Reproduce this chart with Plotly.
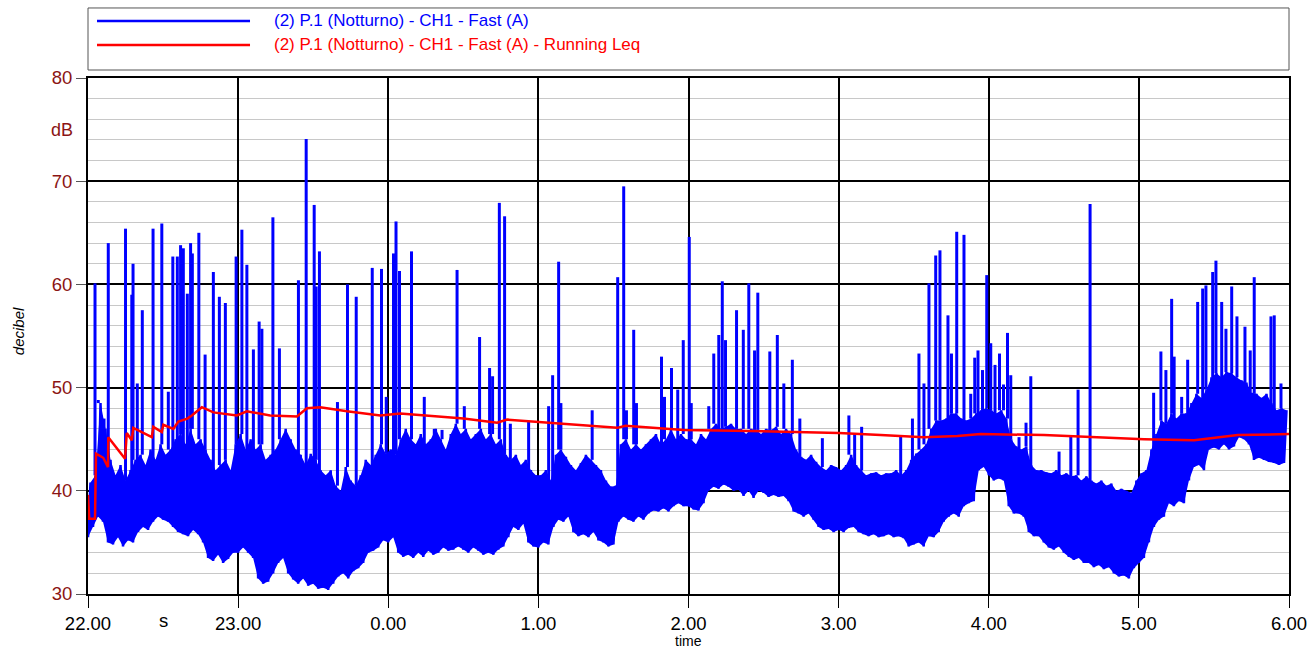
import plotly.graph_objects as go

# time axis in minutes after 22:00 (0 .. 480)
hour_ticks = [0, 60, 120, 180, 240, 300, 360, 420, 480]
hour_labels = ["22.00", "23.00", "0.00", "1.00", "2.00", "3.00", "4.00", "5.00", "6.00"]

# Fast (A) level, 2-minute bins starting at 0, 2, 4 ... 478 min:
# lower and upper edge of the dense band (dB)
band_lo = [35.5, 36.5, 37.5, 37.0, 35.0, 34.8, 35.5, 34.6, 35.2, 35.0,
           36.0, 36.5, 36.2, 37.0, 37.5, 37.2, 37.0, 36.5, 36.0, 35.8,
           35.6, 36.2, 35.8, 35.0, 33.5, 33.2, 33.8, 33.0, 33.4, 34.0,
           34.0, 34.5, 34.0, 33.5, 31.5, 31.0, 31.2, 32.0, 33.0, 33.5,
           32.0, 31.4, 31.0, 31.5, 30.8, 31.0, 30.5, 30.6, 30.4, 31.0,
           31.7, 32.0, 31.5, 32.2, 32.5, 33.0, 34.0, 34.2, 34.5, 35.2,
           35.0, 35.5, 34.0, 33.6, 33.8, 33.5, 34.0, 33.6, 34.2, 33.8,
           34.0, 34.5, 34.2, 34.3, 34.6, 34.3, 34.0, 34.5, 34.2, 33.8,
           34.0, 33.8, 34.3, 34.6, 35.5, 36.5, 36.2, 36.8, 35.0, 34.6,
           34.5, 35.0, 34.8, 36.5, 37.2, 37.0, 37.5, 36.0, 35.6, 35.8,
           35.5, 36.0, 35.2, 35.0, 34.6, 34.8, 37.0, 37.5, 37.2, 37.0,
           37.5, 37.2, 37.8, 38.1, 38.0, 38.3, 38.0, 38.5, 38.8, 38.5,
           38.5, 38.2, 38.1, 38.8, 40.0, 40.4, 40.2, 40.6, 40.4, 40.0,
           40.1, 39.5, 40.0, 39.3, 40.0, 39.8, 39.4, 39.6, 39.4, 39.5,
           39.0, 38.0, 37.8, 37.5, 37.8, 37.2, 36.5, 36.2, 36.3, 36.0,
           36.2, 36.0, 36.4, 36.5, 36.0, 35.8, 35.6, 35.8, 35.5, 35.6,
           35.8, 35.5, 35.6, 35.4, 34.6, 34.8, 35.0, 34.6, 35.6, 35.5,
           36.0, 37.0, 37.5, 37.8, 37.5, 38.5, 38.8, 39.0, 42.0, 42.3,
           41.5, 41.0, 41.2, 41.0, 38.5, 37.8, 37.8, 37.5, 36.0, 35.6,
           35.6, 35.0, 34.5, 34.3, 34.6, 34.0, 33.6, 33.3, 33.5, 33.0,
           33.0, 32.6, 32.8, 32.4, 32.6, 32.0, 31.7, 31.8, 31.5, 32.5,
           33.0, 33.5, 35.0, 36.5, 37.2, 37.5, 38.8, 38.5, 39.0, 38.8,
           41.0, 42.3, 42.5, 42.0, 44.0, 44.2, 44.0, 44.5, 44.0, 44.3,
           45.2, 45.0, 44.5, 43.0, 43.2, 43.0, 42.8, 42.7, 42.5, 42.7]
band_hi = [40.8, 41.5, 48.5, 46.0, 43.0, 41.5, 42.5, 41.0, 42.0, 43.0,
           43.5, 42.5, 44.0, 43.0, 44.5, 43.5, 44.0, 45.0, 45.5, 44.5,
           46.0, 44.5, 45.0, 44.0, 43.0, 42.0, 42.5, 43.0, 42.0, 44.5,
           45.5, 44.0, 45.0, 44.0, 44.5, 43.0, 43.5, 44.0, 45.0, 46.0,
           45.0, 44.0, 43.5, 42.5, 43.6, 43.0, 42.0, 41.5, 42.0, 40.5,
           40.0, 42.3, 41.0, 40.5, 41.5, 43.0, 42.5, 43.5, 44.5, 43.6,
           44.0, 43.5, 45.0, 46.0, 45.0, 44.5, 45.5, 44.5, 45.0, 46.0,
           45.0, 44.0, 45.5, 46.5, 45.5, 46.0, 45.0, 45.5, 46.0, 45.0,
           45.5, 44.5, 45.0, 43.5, 43.0, 43.5, 42.5, 43.0, 42.0, 41.5,
           41.5, 42.0, 41.0, 43.5, 44.0, 43.3, 42.5, 42.0, 42.7, 43.5,
           43.0, 42.5, 42.0, 41.0, 40.4, 40.5, 44.5, 45.0, 44.0, 44.5,
           44.0, 44.5, 45.0, 45.5, 44.5, 45.0, 46.0, 45.0, 45.5, 45.0,
           45.0, 44.5, 45.5, 45.0, 46.0, 46.5, 46.0, 46.2, 46.5, 46.0,
           46.0, 45.5, 46.0, 45.9, 45.5, 46.0, 45.9, 46.2, 45.5, 46.0,
           45.5, 44.0, 43.3, 43.0, 43.5, 42.8, 42.3, 42.0, 42.5, 42.3,
           42.0, 42.5, 43.5, 42.5, 42.0, 41.5, 41.7, 41.8, 41.5, 41.7,
           41.7, 42.0, 41.5, 42.0, 43.0, 43.6, 44.0, 44.5, 46.0, 46.8,
           46.8, 47.0, 47.5, 47.5, 47.0, 46.8, 47.0, 47.5, 47.8, 48.0,
           47.8, 47.5, 47.8, 47.0, 45.0, 44.3, 44.0, 44.3, 42.5, 42.0,
           42.0, 41.8, 41.7, 42.0, 41.5, 41.7, 41.4, 41.5, 41.0, 41.4,
           41.0, 40.7, 41.0, 40.5, 40.7, 40.0, 40.2, 40.0, 39.8, 41.0,
           41.7, 42.0, 44.0, 45.5, 46.8, 46.5, 47.5, 47.0, 47.5, 47.5,
           48.5, 49.4, 49.0, 49.8, 51.0, 51.4, 51.0, 51.5, 51.4, 51.0,
           50.7, 50.5, 49.5, 49.4, 49.0, 49.4, 48.5, 47.8, 48.0, 47.8]

# short noise events (minute, peak dB)
spike_min = [2.8, 4.1, 6.4, 8.1, 15.0, 17.5, 18.0, 19.7, 21.7, 26.0, 29.5, 32.1, 33.9, 35.7, 37.0, 38.1, 39.7, 41.0, 41.7, 44.3,
             46.8, 50.1, 52.5, 54.9, 59.2, 61.5, 63.5, 66.1, 68.4, 69.5, 73.9, 76.5, 84.1, 87.2, 90.4, 91.2, 92.5, 99.7, 103.7, 107.2,
             113.6, 117.3, 119.2, 122.1, 123.1, 124.5, 129.3, 134.4, 138.4, 141.5, 147.5, 150.4, 156.5, 160.5, 161.7, 164.4, 166.5, 168.8, 176.1, 184.1,
             185.7, 188.1, 189.0, 201.5, 211.7, 214.1, 215.2, 218.1, 219.2, 229.2, 230.4, 233.2, 235.7, 237.9, 240.3, 241.1, 248.1, 250.1, 252.1, 253.5,
             254.8, 259.2, 261.9, 264.1, 266.4, 267.7, 272.5, 275.5, 278.1, 281.5, 284.5, 293.5, 304.1, 306.4, 309.2, 324.8, 329.5, 332.1, 334.1, 336.1,
             338.8, 340.5, 343.7, 345.1, 347.2, 350.1, 352.8, 354.4, 355.7, 357.5, 359.2, 360.8, 362.5, 364.3, 365.9, 367.5, 368.8, 372.1, 374.9, 376.8,
             388.1, 392.8, 395.7, 400.5, 425.9, 428.8, 430.8, 433.1, 434.1, 437.1, 439.5, 443.5, 445.5, 446.8, 449.5, 450.8, 453.1, 454.8, 457.1, 459.2,
             462.4, 464.5, 466.1, 472.8, 474.1, 476.8]
spike_db = [60.1, 48.8, 47.0, 64.0, 65.4, 59.0, 62.0, 50.4, 57.5, 65.4, 65.9, 49.6, 62.7, 62.7, 63.8, 63.5, 59.1, 64.0, 63.0, 65.0,
            53.2, 61.2, 58.8, 58.2, 62.7, 65.3, 61.9, 53.7, 56.4, 55.7, 66.5, 53.8, 60.4, 74.1, 67.7, 59.8, 63.2, 48.6, 60.0, 58.8,
            61.6, 61.5, 49.1, 63.0, 66.1, 61.3, 63.2, 49.1, 45.1, 45.9, 61.4, 48.2, 54.9, 51.9, 51.1, 67.9, 66.6, 46.5, 46.7, 48.2,
            51.2, 62.2, 48.5, 47.8, 60.7, 69.5, 47.8, 55.6, 48.5, 53.0, 49.1, 51.9, 49.8, 54.6, 64.6, 48.5, 48.2, 53.3, 55.1, 60.3,
            54.6, 57.5, 55.6, 60.1, 53.6, 59.2, 53.5, 55.1, 50.4, 52.7, 47.0, 45.1, 47.3, 45.6, 46.2, 45.4, 47.0, 53.3, 50.4, 60.1,
            62.8, 63.3, 57.0, 53.3, 65.1, 64.8, 49.4, 52.9, 53.6, 51.7, 60.9, 54.3, 52.2, 53.3, 50.3, 55.3, 51.2, 45.2, 46.6, 51.1,
            43.8, 45.4, 49.8, 67.8, 49.5, 53.5, 51.7, 58.6, 53.0, 49.1, 52.7, 58.3, 59.6, 59.9, 61.2, 62.3, 58.3, 55.7, 59.8, 56.9,
            55.9, 53.6, 60.7, 56.9, 57.0, 50.4]

# running Leq
leq_min = [0, 0.5, 2.8, 3.2, 6.1, 8.0, 8.1, 14.8, 15.5, 17.5, 18.1, 25.5, 26.1, 29.5, 30.1, 34.1, 36.1, 39.7, 41.5, 45.5,
           50.1, 59.5, 63.5, 72.8, 83.5, 87.5, 92.8, 103.5, 116.8, 124.8, 150.1, 163.5, 167.5, 191.5, 211.5, 214.8, 238.1, 264.8, 283.5, 300.1,
           316.8, 334.1, 347.5, 356.8, 382.1, 400.8, 422.1, 442.1, 459.5, 480]
leq_db = [39.6, 37.3, 37.3, 43.6, 43.2, 42.3, 45.2, 43.1, 45.6, 44.9, 46.1, 45.2, 46.2, 45.7, 46.4, 46.0, 46.7, 47.0, 47.3, 48.1,
          47.6, 47.3, 47.7, 47.3, 47.2, 48.0, 48.1, 47.7, 47.3, 47.5, 47.0, 46.6, 46.9, 46.5, 46.1, 46.3, 45.9, 45.8, 45.7, 45.6,
          45.4, 45.2, 45.3, 45.5, 45.4, 45.2, 45.0, 44.9, 45.4, 45.5]

BLUE = "#0000FF"
RED = "#FF0000"
DARKRED = "#8B1414"
FONT = "Liberation Sans, Arial, sans-serif"
BIN = 2  # minutes per band bin

fig = go.Figure()

lo_x = [i * BIN for i in range(len(band_lo))]
hi_x = [i * BIN + BIN / 2 for i in range(len(band_hi))]

# solid core of the band
fig.add_trace(go.Scatter(x=lo_x, y=band_lo, mode="lines", line=dict(width=0, color=BLUE),
                         hoverinfo="skip", showlegend=False))
fig.add_trace(go.Scatter(x=hi_x, y=band_hi, mode="lines", line=dict(width=0, color=BLUE),
                         fill="tonexty", fillcolor=BLUE, hoverinfo="skip", showlegend=False))

# jagged edges: zig-zag between lower and upper edge of every bin
zx, zy = [], []
for a, b, lo, hi in zip(lo_x, hi_x, band_lo, band_hi):
    zx += [a, b]
    zy += [lo, hi]
fig.add_trace(go.Scatter(x=zx, y=zy, mode="lines", line=dict(color=BLUE, width=2.5),
                         hoverinfo="skip", showlegend=False))

# spikes rising out of the band
sx, sy = [], []
for t, pk in zip(spike_min, spike_db):
    base = band_hi[min(int(t // BIN), len(band_hi) - 1)]
    sx += [t, t, None]
    sy += [base, pk, None]
fig.add_trace(go.Scatter(x=sx, y=sy, mode="lines", line=dict(color=BLUE, width=3),
                         name="(2) P.1 (Notturno) - CH1 - Fast (A)", showlegend=False))

fig.add_trace(go.Scatter(x=leq_min, y=leq_db, mode="lines", line=dict(color=RED, width=2.5),
                         name="(2) P.1 (Notturno) - CH1 - Fast (A) - Running Leq", showlegend=False))

# legend box drawn by hand (long line samples)
fig.add_shape(type="rect", xref="paper", yref="paper", x0=0, x1=1, y0=1.0155, y1=1.1357,
              line=dict(color="#555555", width=1))
legend_rows = [("(2) P.1 (Notturno) - CH1 - Fast (A)", BLUE, 1.1105),
               ("(2) P.1 (Notturno) - CH1 - Fast (A) - Running Leq", RED, 1.064)]
for text, col, yy in legend_rows:
    fig.add_shape(type="line", xref="paper", yref="paper", x0=0.0075, x1=0.1349, y0=yy, y1=yy,
                  line=dict(color=col, width=2.5))
    fig.add_annotation(x=0.1532, y=yy, xref="paper", yref="paper", text=text, showarrow=False,
                       xanchor="left", yanchor="middle", font=dict(color=col, size=17, family=FONT))

fig.add_annotation(x=-0.0216, y=75, xref="paper", yref="y", text="dB", showarrow=False,
                   xanchor="center", yanchor="middle", font=dict(color=DARKRED, size=18, family=FONT))
fig.add_annotation(x=-0.058, y=0.51, xref="paper", yref="paper", text="<i>decibel</i>", textangle=-90,
                   showarrow=False, xanchor="center", yanchor="middle",
                   font=dict(color="black", size=15, family=FONT))
fig.add_annotation(x=240, y=-0.091, xref="x", yref="paper", text="time", showarrow=False,
                   xanchor="center", yanchor="middle", font=dict(color="black", size=14, family=FONT))
fig.add_annotation(x=30, y=-0.052, xref="x", yref="paper", text="s", showarrow=False,
                   xanchor="center", yanchor="middle", font=dict(color="black", size=18.5, family=FONT))

fig.update_layout(
    width=1309, height=651,
    margin=dict(l=88, r=20, t=78, b=57),
    paper_bgcolor="white", plot_bgcolor="white",
    font=dict(family=FONT),
    showlegend=False,
)
fig.update_xaxes(
    range=[0, 480], tickvals=hour_ticks, ticktext=hour_labels, automargin=False,
    showgrid=True, gridcolor="black", gridwidth=1.5,
    showline=True, linecolor="black", linewidth=2, mirror=True,
    ticks="outside", ticklen=12, tickcolor="black", tickwidth=1,
    tickfont=dict(size=18.5, color="black", family=FONT), zeroline=False,
)
fig.update_yaxes(
    range=[30, 80], dtick=10, automargin=False,
    showgrid=True, gridcolor="black", gridwidth=1.5,
    minor=dict(dtick=2, showgrid=True, gridcolor="#c8c8c8", gridwidth=1),
    showline=True, linecolor="black", linewidth=2, mirror=True,
    ticks="outside", ticklen=10, tickcolor="#555555",
    tickfont=dict(size=18.5, color=DARKRED, family=FONT), zeroline=False,
)

fig.write_html(
    "out.html",
    config={"displayModeBar": False},
    post_script="document.body.style.margin='0px';"
                "document.body.style.overflow='hidden';"
                "document.documentElement.style.overflow='hidden';",
)
